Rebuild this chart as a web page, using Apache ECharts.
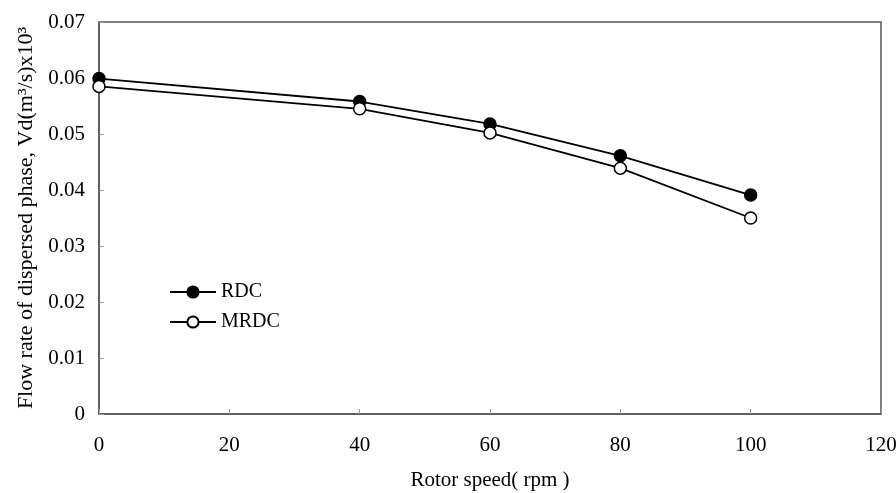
<!DOCTYPE html>
<html><head><meta charset="utf-8">
<script src="https://cdn.jsdelivr.net/npm/echarts@6/dist/echarts.min.js"></script>
<style>html,body{margin:0;padding:0;background:#fff}#c{width:896px;height:493px}</style>
</head><body><div id="c"></div>
<script>
const rotorSpeed = [0, 40, 60, 80, 100];
const rdc = [0.0599, 0.0558, 0.0518, 0.0461, 0.0391];
const mrdc = [0.0585, 0.0545, 0.0502, 0.0439, 0.0350];
const xTitle = 'Rotor speed( rpm )';
const yTitle = 'Flow rate of dispersed phase, Vd(m³/s)x10³';
const font = 'Liberation Serif';

const chart = echarts.init(document.getElementById('c'));
chart.setOption({
  animation: false,
  backgroundColor: '#fff',
  grid: {left: 99, right: 15, top: 22, bottom: 79, outerBoundsMode: 'none', containLabel: false,
         show: true, borderColor: '#555', borderWidth: 1.5, backgroundColor: 'transparent'},
  legend: {
    orient: 'vertical', left: 164, top: 277, itemWidth: 46, itemHeight: 14, itemGap: 10,
    textStyle: {fontFamily: font, fontSize: 20, color: '#000', padding: [0,0,0,0]},
    data: ['RDC', 'MRDC']
  },
  xAxis: {
    type: 'value', min: 0, max: 120, interval: 20,
    name: xTitle, nameLocation: 'middle', nameGap: 56,
    nameTextStyle: {fontFamily: font, fontSize: 21, color: '#000'},
    axisLine: {lineStyle: {color: '#555', width: 1.5}},
    axisTick: {inside: true, length: 5, lineStyle: {color: '#999'}},
    axisLabel: {fontFamily: font, fontSize: 21, color: '#000', margin: 21},
    splitLine: {show: false}
  },
  yAxis: {
    type: 'value', min: 0, max: 0.07, interval: 0.01,
    name: yTitle, nameLocation: 'middle', nameGap: 61,
    nameTextStyle: {fontFamily: font, fontSize: 22, color: '#000', padding: [0, 0, 0, 0]},
    axisLine: {show: true, lineStyle: {color: '#555', width: 1.5}},
    axisTick: {show: true, inside: true, length: 5, lineStyle: {color: '#999'}},
    axisLabel: {fontFamily: font, fontSize: 21, color: '#000', margin: 14},
    splitLine: {show: false}
  },
  series: [
    {name: 'RDC', type: 'line', data: rotorSpeed.map((x,i)=>[x, rdc[i]]),
     symbol: 'circle', symbolSize: 12, showAllSymbol: true,
     lineStyle: {color: '#000', width: 1.8}, itemStyle: {color: '#000', borderColor: '#000', borderWidth: 1.5}},
    {name: 'MRDC', type: 'line', data: rotorSpeed.map((x,i)=>[x, mrdc[i]]),
     symbol: 'circle', symbolSize: 12, showAllSymbol: true,
     lineStyle: {color: '#000', width: 1.8}, itemStyle: {color: '#fff', borderColor: '#000', borderWidth: 1.5}}
  ]
});
</script></body></html>
